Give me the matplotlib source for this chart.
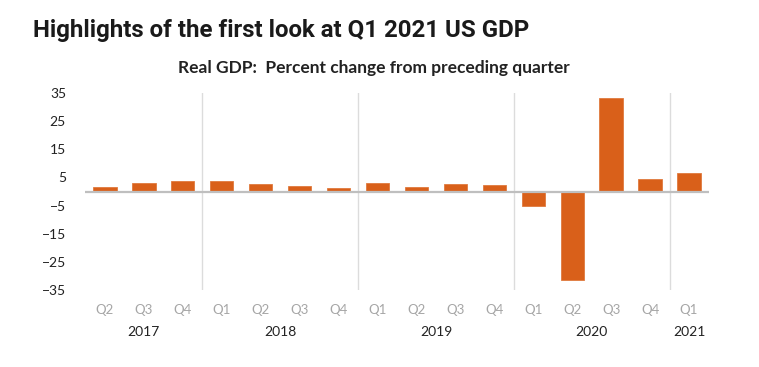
import numpy as np
import matplotlib.pyplot as plt
from matplotlib import transforms

# Real GDP, percent change from preceding quarter (annualized)
quarters = ["Q2", "Q3", "Q4",
            "Q1", "Q2", "Q3", "Q4",
            "Q1", "Q2", "Q3", "Q4",
            "Q1", "Q2", "Q3", "Q4",
            "Q1"]
gdp_change = [1.7, 2.9, 3.9,
              3.8, 2.7, 2.1, 1.3,
              2.9, 1.5, 2.6, 2.4,
              -5.0, -31.4, 33.4, 4.3,
              6.4]
years = ["2017", "2018", "2019", "2020", "2021"]
year_sizes = [3, 4, 4, 4, 1]

fig = plt.figure(figsize=(7.59, 3.67), dpi=100)
ax = fig.add_axes([0.1126, 0.2098, 0.8209, 0.5368])

x = np.arange(len(gdp_change))
ax.bar(x, gdp_change, width=0.6, color="#d9601a", edgecolor="#e07a3e", linewidth=0.6, zorder=3)

ax.set_xlim(-0.5, len(gdp_change) - 0.5)
ax.set_ylim(-35, 35)
ax.set_yticks(range(-35, 36, 10))
ax.tick_params(axis="y", length=0, labelsize=10, labelcolor="#222222", pad=14)
ax.set_xticks(x)
ax.set_xticklabels(quarters, fontsize=9.5, color="#a6a6a6")
ax.tick_params(axis="x", length=0, pad=10)
for lab in ax.get_yticklabels() + ax.get_xticklabels():
    lab.set_family(["Lato", "DejaVu Sans"])

for s in ax.spines.values():
    s.set_visible(False)
ax.axhline(0, color="#bfbfbf", linewidth=1.6, zorder=4)

# year separators and labels
trans = transforms.blended_transform_factory(ax.transData, ax.transAxes)
start = -0.5
for yr, n in zip(years, year_sizes):
    end = start + n
    if end < len(gdp_change) - 0.5:
        ax.axvline(end, color="#dcdcdc", linewidth=1, zorder=1)
    ax.text((start + end) / 2, -0.215, yr, transform=trans, ha="center", va="center",
            fontsize=10, color="#222222", family=["Lato", "DejaVu Sans"])
    start = end

fig.text(0.043, 0.918, "Highlights of the first look at Q1 2021 US GDP",
         fontsize=17.3, fontweight="bold", color="#1a1a1a", family=["Roboto", "DejaVu Sans"],
         va="center")
fig.text(0.493, 0.815, "Real GDP:  Percent change from preceding quarter",
         fontsize=12.5, fontweight="bold", color="#222222", family=["Lato", "DejaVu Sans"],
         ha="center", va="center")

fig.savefig("out.png", dpi=100)
